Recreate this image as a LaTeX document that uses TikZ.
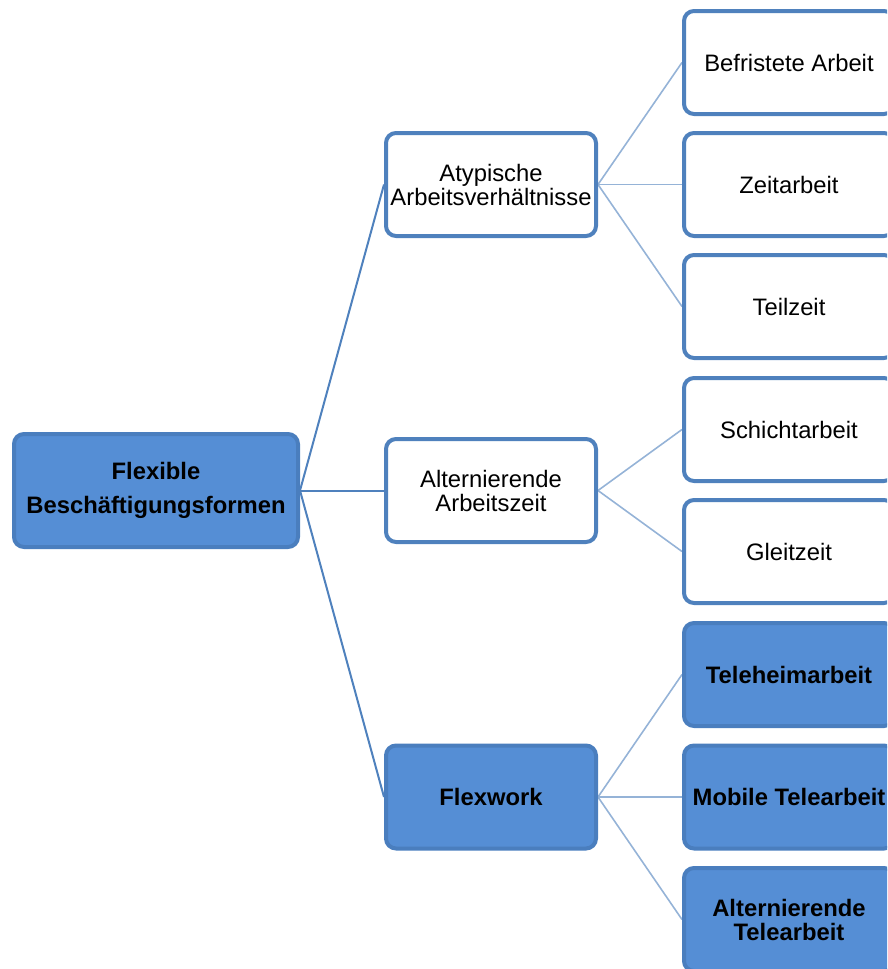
\documentclass[tikz,border=0pt]{standalone}
\usepackage{fontspec}
\setmainfont{Liberation Sans}
\pgfdeclarelayer{background}
\pgfsetlayers{background,main}
\definecolor{boxblue}{RGB}{85,142,213}
\definecolor{boxedge}{RGB}{74,126,190}
\definecolor{frameblue}{RGB}{79,129,189}
\definecolor{mainline}{RGB}{79,129,189}
\definecolor{subline}{RGB}{149,179,215}
\tikzset{
  basebox/.style={rounded corners=10pt, line width=4pt, minimum width=210pt,
    minimum height=103pt, align=center, inner sep=2pt,
    font=\fontsize{23.8}{24}\selectfont},
  whitebox/.style={basebox, draw=frameblue, fill=white},
  bluebox/.style={basebox, draw=boxedge, fill=boxblue, font=\fontsize{23.8}{24}\selectfont\bfseries},
  rootbox/.style={bluebox, minimum width=284pt, minimum height=113pt,
    font=\fontsize{23.8}{34}\selectfont\bfseries},
  mainlink/.style={draw=mainline, line width=2pt},
  sublink/.style={draw=subline, line width=1.6pt}
}
\begin{document}
\begin{tikzpicture}[x=1pt,y=-1pt]
  \useasboundingbox (0,0) rectangle (887,969);
  \clip (0,0) rectangle (887,969);

  % root
  \node[rootbox] (root) at (156,490.5) {Flexible\\Beschäftigungsformen};

  % second level
  \node[whitebox] (aty) at (491,184.5) {Atypische\\Arbeitsverhältnisse};
  \node[whitebox] (alt) at (491,490.5) {Alternierende\\Arbeitszeit};
  \node[bluebox]  (flex) at (491,797) {Flexwork};

  % leaves
  \node[whitebox] (befr) at (789,62.5) {Befristete Arbeit};
  \node[whitebox] (zeit) at (789,184.5) {Zeitarbeit};
  \node[whitebox] (teil) at (789,306.5) {Teilzeit};
  \node[whitebox] (schi) at (789,429.5) {Schichtarbeit};
  \node[whitebox] (glei) at (789,551.5) {Gleitzeit};
  \node[bluebox]  (tele) at (789,674.5) {Teleheimarbeit};
  \node[bluebox]  (mobi) at (789,797) {Mobile Telearbeit};
  \node[bluebox]  (alte) at (789,919.5) {Alternierende\\Telearbeit};

  \begin{pgfonlayer}{background}
    \draw[mainlink] (root.east) -- (aty.west);
    \draw[mainlink] (root.east) -- (alt.west);
    \draw[mainlink] (root.east) -- (flex.west);
    \draw[sublink] (aty.east) -- (befr.west);
    \draw[sublink] (aty.east) -- (zeit.west);
    \draw[sublink] (aty.east) -- (teil.west);
    \draw[sublink] (alt.east) -- (schi.west);
    \draw[sublink] (alt.east) -- (glei.west);
    \draw[sublink] (flex.east) -- (tele.west);
    \draw[sublink] (flex.east) -- (mobi.west);
    \draw[sublink] (flex.east) -- (alte.west);
  \end{pgfonlayer}
\end{tikzpicture}
\end{document}
